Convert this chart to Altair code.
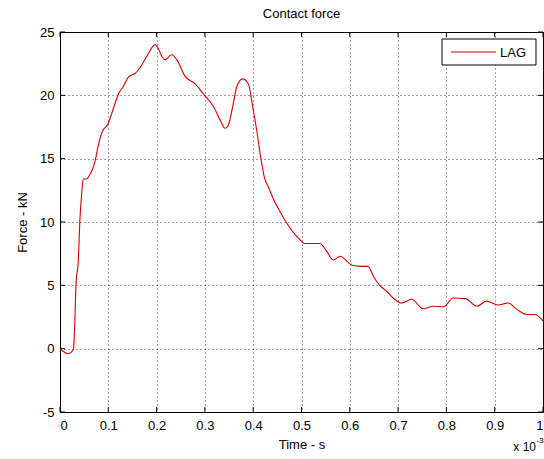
import altair as alt
import pandas as pd

# ---- data ----
time_ms = [0.000, 0.008, 0.017, 0.024, 0.028, 0.031, 0.033, 0.038, 0.041, 0.045,
           0.048, 0.055, 0.062, 0.072, 0.079, 0.086, 0.100, 0.110, 0.121, 0.131,
           0.141, 0.148, 0.155, 0.166, 0.180, 0.197, 0.200, 0.217, 0.231, 0.242,
           0.259, 0.280, 0.297, 0.318, 0.331, 0.342, 0.348, 0.359, 0.366, 0.378,
           0.390, 0.399, 0.407, 0.414, 0.424, 0.431, 0.442, 0.455, 0.473, 0.493,
           0.507, 0.538, 0.552, 0.566, 0.580, 0.604, 0.621, 0.638, 0.649, 0.663,
           0.676, 0.690, 0.707, 0.728, 0.752, 0.773, 0.794, 0.814, 0.839, 0.863,
           0.883, 0.907, 0.928, 0.946, 0.966, 0.983, 1.000]
force_kN = [0.0, -0.25, -0.4, -0.25, 0.0, 2.5, 5.0, 7.0, 10.0, 12.3,
            13.4, 13.4, 13.75, 14.7, 16.0, 17.0, 17.8, 18.9, 20.1, 20.7,
            21.4, 21.6, 21.7, 22.2, 23.1, 24.0, 23.9, 22.8, 23.2, 22.8,
            21.5, 20.9, 20.1, 19.1, 18.1, 17.4, 17.6, 19.4, 20.7, 21.3,
            20.9, 19.1, 17.3, 15.5, 13.4, 12.8, 11.8, 10.85, 9.7, 8.75,
            8.3, 8.3, 7.7, 7.0, 7.3, 6.6, 6.5, 6.5, 5.7, 4.95,
            4.55, 4.0, 3.6, 3.9, 3.15, 3.35, 3.3, 4.0, 3.95, 3.35,
            3.75, 3.45, 3.6, 3.1, 2.7, 2.7, 2.2]
series_name = "LAG"
x_ticks = [0, 0.1, 0.2, 0.3, 0.4, 0.5, 0.6, 0.7, 0.8, 0.9, 1]
y_ticks = [-5, 0, 5, 10, 15, 20, 25]

W, H = 483, 380
FONT = "Liberation Sans"
RED = "#d80000"

df = pd.DataFrame({"t": time_ms, "f": force_kN, "series": series_name})
xt = pd.DataFrame({"t": x_ticks})
yt = pd.DataFrame({"f": y_ticks})
leg = pd.DataFrame({"label": [series_name]})

xscale = alt.Scale(domain=[0, 1], nice=False, zero=False)
yscale = alt.Scale(domain=[-5, 25], nice=False, zero=False)

hyphen_label = "datum.value < 0 ? '-' + format(-datum.value, '~g') : format(datum.value, '~g')"

line = alt.Chart(df).mark_line(color=RED, strokeWidth=1.1, interpolate="monotone").encode(
    x=alt.X("t:Q", scale=xscale,
            axis=alt.Axis(values=x_ticks, labelExpr=hyphen_label, title="Time - s", grid=True)),
    y=alt.Y("f:Q", scale=yscale,
            axis=alt.Axis(values=y_ticks, labelExpr=hyphen_label, title="Force - kN", grid=True)),
)

tick_style = dict(color="black", strokeWidth=1)
xb = alt.Chart(xt).mark_rule(**tick_style).encode(x=alt.X("t:Q", scale=xscale), y=alt.value(H), y2=alt.value(H - 5))
xtp = alt.Chart(xt).mark_rule(**tick_style).encode(x=alt.X("t:Q", scale=xscale), y=alt.value(0), y2=alt.value(5))
yl = alt.Chart(yt).mark_rule(**tick_style).encode(y=alt.Y("f:Q", scale=yscale), x=alt.value(0), x2=alt.value(5))
yr = alt.Chart(yt).mark_rule(**tick_style).encode(y=alt.Y("f:Q", scale=yscale), x=alt.value(W), x2=alt.value(W - 5))

# legend box (drawn by hand, MATLAB style)
leg_box = alt.Chart(leg).mark_rect(fill="white", stroke="black", strokeWidth=1).encode(
    x=alt.value(382), x2=alt.value(476), y=alt.value(7), y2=alt.value(33))
leg_line = alt.Chart(leg).mark_rule(color=RED, strokeWidth=1.1).encode(
    x=alt.value(391), x2=alt.value(436), y=alt.value(20))
leg_text = alt.Chart(leg).mark_text(align="left", baseline="middle", font=FONT, fontSize=13, color="black").encode(
    x=alt.value(440), y=alt.value(20.5), text="label:N")

# exponent annotation "x 10^-3"
exp_main = alt.Chart(leg).mark_text(align="right", baseline="alphabetic", font=FONT, fontSize=12, color="black",
                                    text="x 10").encode(x=alt.value(476), y=alt.value(419))
exp_sup = alt.Chart(leg).mark_text(align="left", baseline="alphabetic", font=FONT, fontSize=8, color="black",
                                   text="-3").encode(x=alt.value(476.5), y=alt.value(411))

chart = alt.layer(line, xb, xtp, yl, yr, leg_box, leg_line, leg_text, exp_main, exp_sup).properties(
    width=W, height=H,
    title=alt.TitleParams("Contact force", font=FONT, fontSize=13, fontWeight="normal", color="black",
                          anchor="middle", offset=5),
    padding={"left": 60, "top": 32, "right": 1, "bottom": 47},
    autosize=alt.AutoSizeParams(type="none"),
    background="white",
).configure_view(
    stroke="black", strokeWidth=1
).configure_axis(
    domainColor="black", domainWidth=1,
    gridColor="black", gridDash=[1, 3], gridOpacity=0.75, gridWidth=1,
    ticks=False, labelFont=FONT, labelFontSize=13, labelColor="black",
    titleFont=FONT, titleFontSize=13, titleFontWeight="normal", titleColor="black",
).configure_axisX(
    labelPadding=7, titlePadding=6,
).configure_axisY(
    labelPadding=6, titlePadding=10,
)

chart.save("out.html", embed_options={"renderer": "svg", "actions": False})
